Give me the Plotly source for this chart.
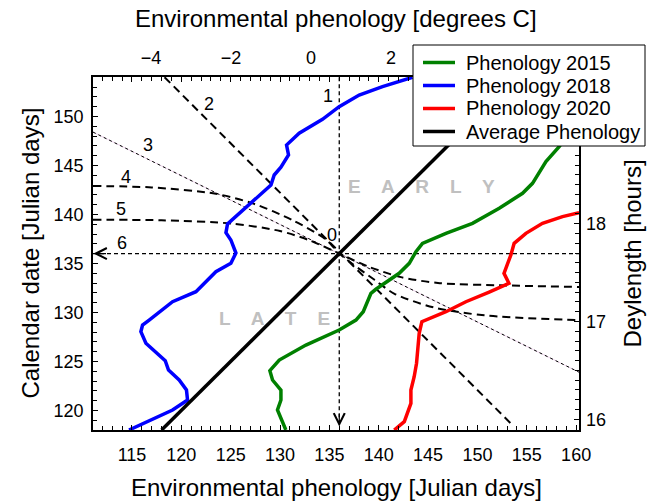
import plotly.graph_objects as go

# ---------------- data ----------------
blue_x = [114.7, 119.11, 120.63, 120.52, 119.78, 118.70, 118.37, 116.41, 115.90, 116.07, 116.74,
          119.11, 121.48, 123.50, 125.02, 125.53, 125.02, 124.52, 124.68, 126.88, 129.08, 129.41,
          130.09, 130.86, 130.66, 131.94, 134.30, 135.99, 138.02, 140.38, 143.42]
blue_y = [118.0, 120.04, 121.06, 122.08, 123.10, 124.12, 125.07, 126.85, 128.03, 128.71, 129.22,
          131.09, 132.11, 134.15, 135.01, 136.06, 137.39, 138.13, 139.02, 140.96, 143.0, 144.02,
          144.81, 146.06, 147.08, 148.28, 149.70, 150.99, 152.18, 153.03, 153.99]

green_x = [130.59, 129.74, 130.09, 130.09, 129.24, 128.97, 129.92, 132.62, 135.99, 137.69, 138.43,
           139.21, 139.71, 142.07, 143.09, 143.77, 144.43, 146.81, 149.50, 152.21, 154.57, 155.58,
           156.94, 158.28, 159.8]
green_y = [118.0, 120.04, 121.06, 122.08, 123.10, 124.05, 125.14, 126.67, 128.20, 129.22, 130.07,
           131.95, 132.36, 133.99, 135.01, 136.19, 137.05, 138.07, 139.09, 140.62, 142.15, 143.17,
           145.38, 146.91, 149.1]

red_x = [141.57, 142.59, 143.26, 143.26, 143.59, 143.83, 144.10, 144.37, 146.81, 148.83, 151.19,
         153.19, 152.69, 153.39, 153.72, 154.91, 156.59, 158.62, 160.3]
red_y = [118.0, 118.85, 120.72, 122.08, 123.44, 124.81, 127.87, 129.05, 130.07, 131.09, 132.08,
         132.97, 133.99, 135.86, 137.05, 138.07, 139.09, 139.77, 140.17]

avg_x = [118.0, 154.0]
avg_y = [118.0, 154.0]

# reference lines through the centre point (136, 136)
line1_x = [136.0, 136.0]
line1_y = [154.0, 118.4]
line2_x = [118.3, 153.4]
line2_y = [154.0, 118.65]
line3_x = [111.05, 160.29]
line3_y = [148.4, 123.9]
line4_x = [111.05, 117.0, 123.5, 127.3, 131.3, 134.7, 136.0, 139.6, 141.6, 145.6, 150.7, 160.29]
line4_y = [142.9, 142.75, 142.1, 141.1, 139.4, 137.4, 136.0, 133.3, 131.9, 130.5, 129.7, 129.2]
line5_x = [111.05, 118.0, 125.25, 130.0, 133.0, 136.0, 139.0, 142.25, 146.0, 153.0, 160.29]
line5_y = [139.45, 139.4, 139.05, 138.3, 137.35, 136.0, 134.65, 133.6, 133.0, 132.75, 132.6]
line6_x = [111.05, 160.29]
line6_y = [136.0, 136.0]

xticks_days = [115, 120, 125, 130, 135, 140, 145, 150, 155, 160]
yticks_days = [120, 125, 130, 135, 140, 145, 150]
xticks_deg = [-4, -2, 0, 2]
yticks_hours = [16, 17, 18]

line_labels = ["1", "2", "3", "4", "5", "6", "0"]
label_x = [134.9, 122.8, 116.6, 114.4, 113.9, 114.0, 135.3]
label_y = [152.1, 151.3, 147.1, 143.85, 140.6, 137.05, 137.9]

series_names = ["Phenology 2015", "Phenology 2018", "Phenology 2020", "Average Phenology"]
series_colors = ["#008000", "#0000ff", "#ff0000", "#000000"]

FONT = "Arial, Liberation Sans, sans-serif"

# plot-area geometry (pixels) used for paper-coordinate placement of the legend box
W, H = 654, 502
ML, MR, MT, MB = 93, 75, 77, 72
PW, PH = W - ML - MR, H - MT - MB


def px(xp):
    return (xp - ML) / PW


def py(yp):
    return (H - MB - yp) / PH


fig = go.Figure()

dash_thick = "8px,5px"
dash_thin = "4px,3px"

fig.add_trace(go.Scatter(x=line1_x, y=line1_y, mode="lines", showlegend=False,
                         line=dict(color="black", width=1.3, dash=dash_thin), hoverinfo="skip"))
fig.add_trace(go.Scatter(x=line6_x, y=line6_y, mode="lines", showlegend=False,
                         line=dict(color="black", width=1.3, dash=dash_thin), hoverinfo="skip"))
fig.add_trace(go.Scatter(x=line2_x, y=line2_y, mode="lines", showlegend=False,
                         line=dict(color="black", width=2, dash=dash_thick), hoverinfo="skip"))
fig.add_trace(go.Scatter(x=line3_x, y=line3_y, mode="lines", showlegend=False,
                         line=dict(color="#e9c6e6", width=0.8), hoverinfo="skip"))
fig.add_trace(go.Scatter(x=line3_x, y=line3_y, mode="lines", showlegend=False,
                         line=dict(color="black", width=1, dash="3px,3px"), hoverinfo="skip"))
fig.add_trace(go.Scatter(x=line4_x, y=line4_y, mode="lines", showlegend=False,
                         line=dict(color="black", width=2, dash=dash_thick, shape="spline", smoothing=0.8),
                         hoverinfo="skip"))
fig.add_trace(go.Scatter(x=line5_x, y=line5_y, mode="lines", showlegend=False,
                         line=dict(color="black", width=2, dash=dash_thick, shape="spline", smoothing=0.8),
                         hoverinfo="skip"))

for xs, ys, nm, col in zip([green_x, blue_x, red_x, avg_x], [green_y, blue_y, red_y, avg_y],
                           series_names, series_colors):
    fig.add_trace(go.Scatter(x=xs, y=ys, mode="lines", name=nm, showlegend=False,
                             line=dict(color=col, width=3.5)))

# dummy trace for the secondary axes
fig.add_trace(go.Scatter(x=[None], y=[None], xaxis="x2", yaxis="y2", showlegend=False,
                         hoverinfo="skip"))

annotations = []
for t, x, y in zip(line_labels, label_x, label_y):
    annotations.append(dict(x=x, y=y, xref="x", yref="y", text=t, showarrow=False,
                            font=dict(size=18, color="black", family=FONT)))

# arrow heads
annotations.append(dict(x=136.0, y=118.35, xref="x", yref="y", ax=0, ay=-14,
                        text="", showarrow=True, arrowhead=5,
                        arrowsize=1.8, arrowwidth=1.2, arrowcolor="black"))
annotations.append(dict(x=111.1, y=136.0, xref="x", yref="y", ax=14, ay=0,
                        text="", showarrow=True, arrowhead=5,
                        arrowsize=1.8, arrowwidth=1.2, arrowcolor="black"))

# region labels
annotations.append(dict(x=144.3, y=142.85, xref="x", yref="y", text="E    A    R    L    Y",
                        showarrow=False, font=dict(size=19, color="#c0c0c0", family=FONT, weight="bold")))
annotations.append(dict(x=129.4, y=129.4, xref="x", yref="y", text="L    A    T    E",
                        showarrow=False, font=dict(size=19, color="#c0c0c0", family=FONT, weight="bold")))

# axis titles
title_font = dict(size=24, color="black", family=FONT)
annotations.append(dict(x=0.5, y=py(487), xref="paper", yref="paper", text="Environmental phenology [Julian days]",
                        showarrow=False, font=title_font, yanchor="middle"))
annotations.append(dict(x=0.5, y=py(18), xref="paper", yref="paper", text="Environmental phenology [degrees C]",
                        showarrow=False, font=title_font, yanchor="middle"))
annotations.append(dict(x=px(30), y=0.5, xref="paper", yref="paper", text="Calendar date [Julian days]",
                        showarrow=False, font=title_font, textangle=-90, xanchor="center"))
annotations.append(dict(x=px(632), y=0.5, xref="paper", yref="paper", text="Deylength [hours]",
                        showarrow=False, font=title_font, textangle=-90, xanchor="center"))

# legend (box, samples and labels)
shapes = [dict(type="rect", xref="paper", yref="paper", x0=px(413), x1=px(645), y0=py(146), y1=py(45),
               fillcolor="white", line=dict(color="black", width=1), layer="above")]
leg_rows = [62.5, 85.5, 108.5, 131.5]
for nm, col, ry in zip(series_names, series_colors, leg_rows):
    shapes.append(dict(type="line", xref="paper", yref="paper", x0=px(423), x1=px(455),
                       y0=py(ry), y1=py(ry), line=dict(color=col, width=3.5), layer="above"))
    annotations.append(dict(x=px(464), y=py(ry), xref="paper", yref="paper", text=nm,
                            showarrow=False, xanchor="left", yanchor="middle",
                            font=dict(size=20, color="black", family=FONT)))

tickfont = dict(size=18, color="black", family=FONT)

fig.update_layout(
    width=W, height=H,
    margin=dict(l=ML, r=MR, t=MT, b=MB, autoexpand=False),
    paper_bgcolor="white", plot_bgcolor="white",
    showlegend=False,
    annotations=annotations,
    shapes=shapes,
    xaxis=dict(range=[111.05, 160.29], tickvals=xticks_days, ticks="inside", ticklen=5,
               tickcolor="black", tickwidth=1, showline=True, linecolor="black", linewidth=1.5,
               mirror="ticks", showgrid=False, zeroline=False, tickfont=tickfont,
               ticklabelstandoff=8,
               minor=dict(dtick=1, tick0=0, ticks="inside", ticklen=4, tickcolor="black",
                          showgrid=False)),
    yaxis=dict(range=[118.0, 154.02], tickvals=yticks_days, ticks="inside", ticklen=5,
               tickcolor="black", tickwidth=1, showline=True, linecolor="black", linewidth=1.5,
               mirror=True, showgrid=False, zeroline=False, tickfont=tickfont,
               ticklabelstandoff=4,
               minor=dict(dtick=1, tick0=0, ticks="inside", ticklen=4, tickcolor="black",
                          showgrid=False)),
    xaxis2=dict(range=[-5.45, 6.70], tickvals=xticks_deg, overlaying="x", side="top",
                anchor="y", ticks="", showline=False, showgrid=False, zeroline=False,
                tickfont=tickfont, ticklabelstandoff=8),
    yaxis2=dict(range=[15.89, 19.50], tickvals=yticks_hours, overlaying="y", side="right",
                anchor="x", ticks="inside", ticklen=5, tickcolor="black", tickwidth=1,
                showline=False, showgrid=False, zeroline=False, tickfont=tickfont,
                ticklabelstandoff=6,
                minor=dict(dtick=0.1, tick0=0, ticks="inside", ticklen=4, tickcolor="black",
                           showgrid=False)),
)

fig.write_html("out.html")
